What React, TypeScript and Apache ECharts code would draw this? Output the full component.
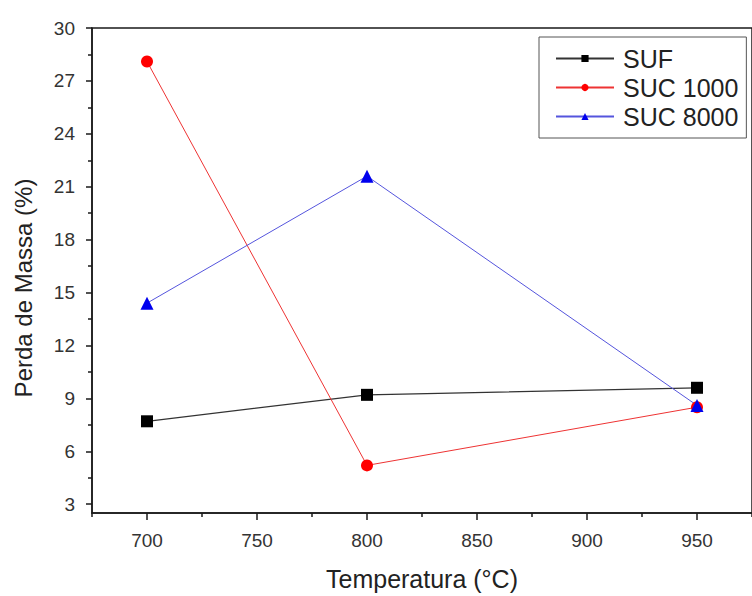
import React, { useEffect, useRef } from "react";
import * as echarts from "echarts";

const temperatures = [700, 800, 950];
const sufValues = [7.7, 9.2, 9.6];
const suc1000Values = [28.1, 5.2, 8.5];
const suc8000Values = [14.4, 21.6, 8.6];
const seriesNames = ["SUF", "SUC 1000", "SUC 8000"];
const yLabelValues = [3, 6, 9, 12, 15, 18, 21, 24, 27, 30];
const yMinorValues = [4.5, 7.5, 10.5, 13.5, 16.5, 19.5, 22.5, 25.5, 28.5];
const xLabelValues = [700, 750, 800, 850, 900, 950];
const xMinorValues = [675, 725, 775, 825, 875, 925, 975];
const yTitle = "Perda de Massa (%)";
const xTitle = "Temperatura (°C)";

const FONT = "'Liberation Sans', Arial, sans-serif";

export default function App() {
  const ref = useRef<HTMLDivElement>(null);
  useEffect(() => {
    if (!ref.current) return;
    const chart = echarts.init(ref.current, null, { renderer: "svg" });
    const pair = (vals: number[]) => temperatures.map((t, i) => [t, vals[i]]);
    const axisColor = "#1a1a1a";
    chart.setOption({
      animation: false,
      backgroundColor: "#fff",
      grid: {
        left: 92,
        top: 28,
        right: -6,
        bottom: 79,
        show: true,
        borderColor: axisColor,
        borderWidth: 1.5,
        backgroundColor: "transparent",
      },
      graphic: [
        {
          type: "text",
          x: 23,
          y: 288,
          rotation: Math.PI / 2,
          style: {
            text: yTitle,
            fontFamily: FONT,
            fontSize: 24,
            fill: "#222",
            align: "center",
            verticalAlign: "middle",
          },
        },
      ],
      legend: {
        orient: "vertical",
        left: 539,
        top: 37,
        padding: [9, 8, 9, 16],
        borderColor: "#555",
        borderWidth: 1,
        itemWidth: 58,
        itemHeight: 9,
        itemGap: 4,
        textStyle: { fontFamily: FONT, fontSize: 25, color: "#222", padding: [0, 0, 0, 4] },
        data: seriesNames,
      },
      xAxis: [
        {
          type: "value",
          min: 675,
          max: 975,
          position: "bottom",
          name: xTitle,
          nameLocation: "middle",
          nameGap: 53,
          nameTextStyle: { fontFamily: FONT, fontSize: 25, color: "#222" },
          axisLine: { show: true, lineStyle: { color: axisColor, width: 1.5 } },
          axisTick: { show: true, inside: false, length: 7, customValues: xLabelValues, lineStyle: { color: axisColor, width: 1.5 } },
          axisLabel: { show: true, customValues: xLabelValues, margin: 18, fontFamily: FONT, fontSize: 19, color: "#333" },
          splitLine: { show: false },
        },
        {
          type: "value",
          min: 675,
          max: 975,
          position: "bottom",
          axisLine: { show: false },
          axisTick: { show: true, inside: false, length: 4, customValues: xMinorValues, lineStyle: { color: axisColor, width: 1.5 } },
          axisLabel: { show: false },
          splitLine: { show: false },
        },
      ],
      yAxis: [
        {
          type: "value",
          min: 2.5,
          max: 30,
          position: "left",
          axisLine: { show: true, lineStyle: { color: axisColor, width: 1.5 } },
          axisTick: { show: true, inside: false, length: 6, customValues: yLabelValues, lineStyle: { color: axisColor, width: 1.5 } },
          axisLabel: { show: true, customValues: yLabelValues, margin: 17, fontFamily: FONT, fontSize: 19, color: "#333" },
          splitLine: { show: false },
        },
        {
          type: "value",
          min: 2.5,
          max: 30,
          position: "left",
          axisLine: { show: false },
          axisTick: { show: true, inside: false, length: 4, customValues: yMinorValues, lineStyle: { color: axisColor, width: 1.5 } },
          axisLabel: { show: false },
          splitLine: { show: false },
        },
      ],
      series: [
        {
          name: seriesNames[0],
          type: "line",
          data: pair(sufValues),
          symbol: "rect",
          symbolSize: 12,
          itemStyle: { color: "#000" },
          lineStyle: { color: "#333", width: 1.2 },
        },
        {
          name: seriesNames[1],
          type: "line",
          data: pair(suc1000Values),
          symbol: "circle",
          symbolSize: 12,
          itemStyle: { color: "#ff0000" },
          lineStyle: { color: "#ee3333", width: 1 },
        },
        {
          name: seriesNames[2],
          type: "line",
          data: pair(suc8000Values),
          symbol: "triangle",
          symbolSize: 13,
          itemStyle: { color: "#0000ee" },
          lineStyle: { color: "#5555dd", width: 1 },
        },
      ],
    });
    return () => chart.dispose();
  }, []);
  return (
    <div
      ref={ref}
      style={{ position: "absolute", left: 0, top: 0, width: 752, height: 596 }}
    />
  );
}
